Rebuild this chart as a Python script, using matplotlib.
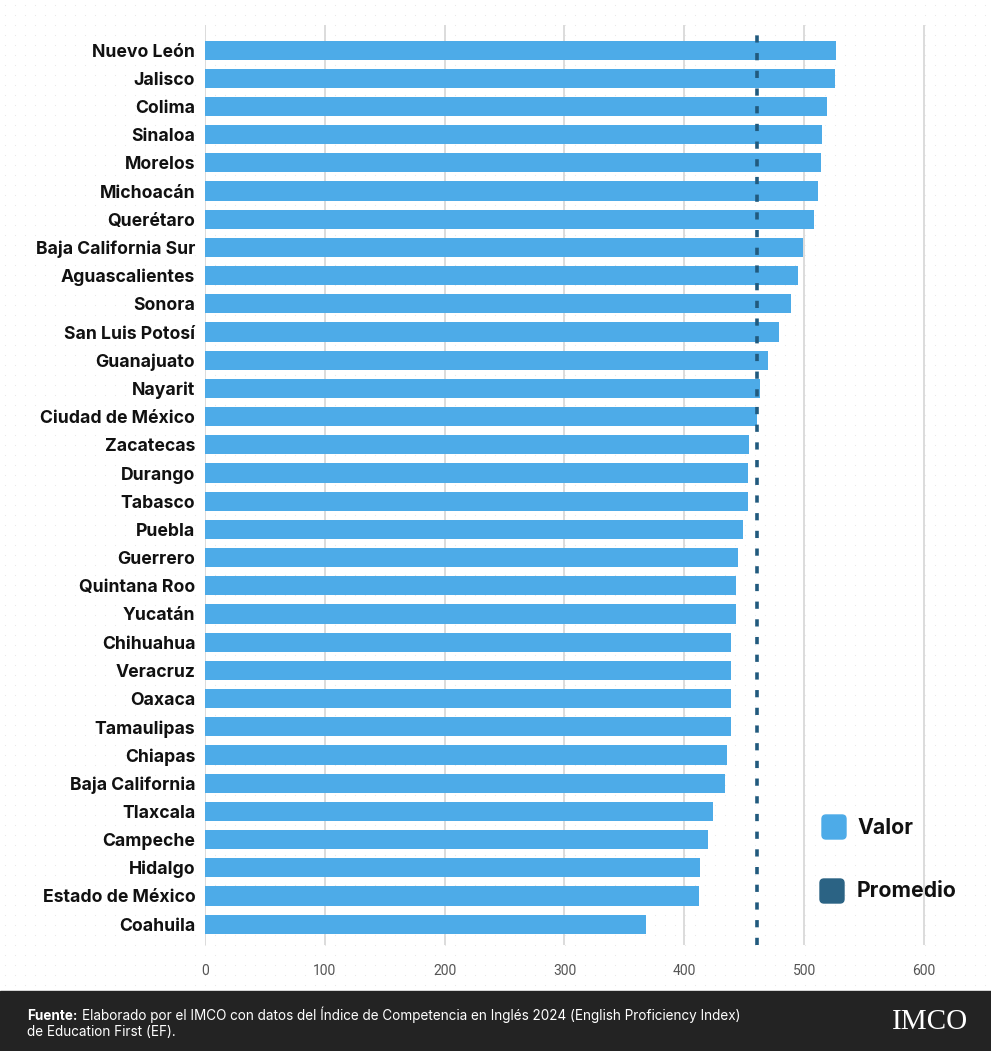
import numpy as np
import matplotlib.pyplot as plt
from matplotlib.patches import FancyBboxPatch, Rectangle

# data
estados = ["Nuevo León", "Jalisco", "Colima", "Sinaloa", "Morelos", "Michoacán",
           "Querétaro", "Baja California Sur", "Aguascalientes", "Sonora",
           "San Luis Potosí", "Guanajuato", "Nayarit", "Ciudad de México",
           "Zacatecas", "Durango", "Tabasco", "Puebla", "Guerrero", "Quintana Roo",
           "Yucatán", "Chihuahua", "Veracruz", "Oaxaca", "Tamaulipas", "Chiapas",
           "Baja California", "Tlaxcala", "Campeche", "Hidalgo",
           "Estado de México", "Coahuila"]
valor = [527, 526, 519, 515, 514, 512, 508, 499, 495, 489,
         479, 470, 463, 461, 454, 453, 453, 449, 445, 443,
         443, 439, 439, 439, 439, 436, 434, 424, 420, 413,
         412, 368]
promedio = 461
xticks = [0, 100, 200, 300, 400, 500, 600]

c_bar = "#4DABE8"
c_prom = "#215A7E"

plt.rcParams['font.family'] = ['Inter', 'DejaVu Sans']

W, H = 991, 1051
fig = plt.figure(figsize=(W/100, H/100), dpi=100)
fig.patch.set_facecolor("white")

# dotted background
bg = fig.add_axes([0, 0, 1, 1], zorder=-5)
bg.set_xlim(0, W)
bg.set_ylim(H, 0)
bg.axis("off")
gx, gy = np.meshgrid(np.arange(5, W, 10), np.arange(5, 990, 10))
bg.scatter(gx.ravel(), gy.ravel(), s=0.6, color="#e6e6e6", linewidths=0)
bg.add_patch(Rectangle((0, 991), W, 60, color="#232323"))

ax = fig.add_axes([205/W, 1-945/H, (985-205)/W, (945-25)/H])
ax.patch.set_alpha(0)
y = np.arange(len(estados))
ax.barh(y, valor, height=0.68, color=c_bar, zorder=2)
ax.axvline(promedio, color=c_prom, lw=2.6, dashes=(2, 2.9), zorder=3)
ax.set_xlim(0, 651)
ax.set_ylim(31.74, -0.89)
ax.set_yticks(y)
ax.set_yticklabels(estados, fontsize=12.7, fontweight="bold", color="#111111")
ax.set_xticks(xticks)
ax.set_xticklabels([str(t) for t in xticks], fontsize=10, color="#555555",
                   family="Roboto")
ax.tick_params(axis="both", length=0)
ax.tick_params(axis="y", pad=7)
ax.tick_params(axis="x", pad=14)
ax.grid(axis="x", color="#d6d6d6", lw=1.2, zorder=0)
for s in ax.spines.values():
    s.set_visible(False)

# legend
bg.add_patch(FancyBboxPatch((822, 815), 24, 24, boxstyle="round,pad=0,rounding_size=4",
                            color=c_bar))
bg.add_patch(FancyBboxPatch((820, 879), 24, 24, boxstyle="round,pad=0,rounding_size=4",
                            color="#2B6384"))
bg.text(857, 834, "Valor", fontsize=15.3, fontweight="bold", va="baseline", color="#111111")
bg.text(857, 897, "Promedio", fontsize=15.3, fontweight="bold", va="baseline", color="#111111")

# footer
bg.text(27, 1020, "Fuente:", fontsize=9.7, fontweight="bold", color="white", va="baseline")
bg.text(82, 1020, "Elaborado por el IMCO con datos del Índice de Competencia en Inglés 2024 (English Proficiency Index)",
        fontsize=9.75, color="white", va="baseline")
bg.text(27, 1036, "de Education First (EF).", fontsize=9.75, color="white", va="baseline")
bg.text(930, 1022, "IMCO", family="Liberation Serif", fontsize=21, color="white",
        va="center", ha="center")

fig.savefig("out.png", dpi=100)
